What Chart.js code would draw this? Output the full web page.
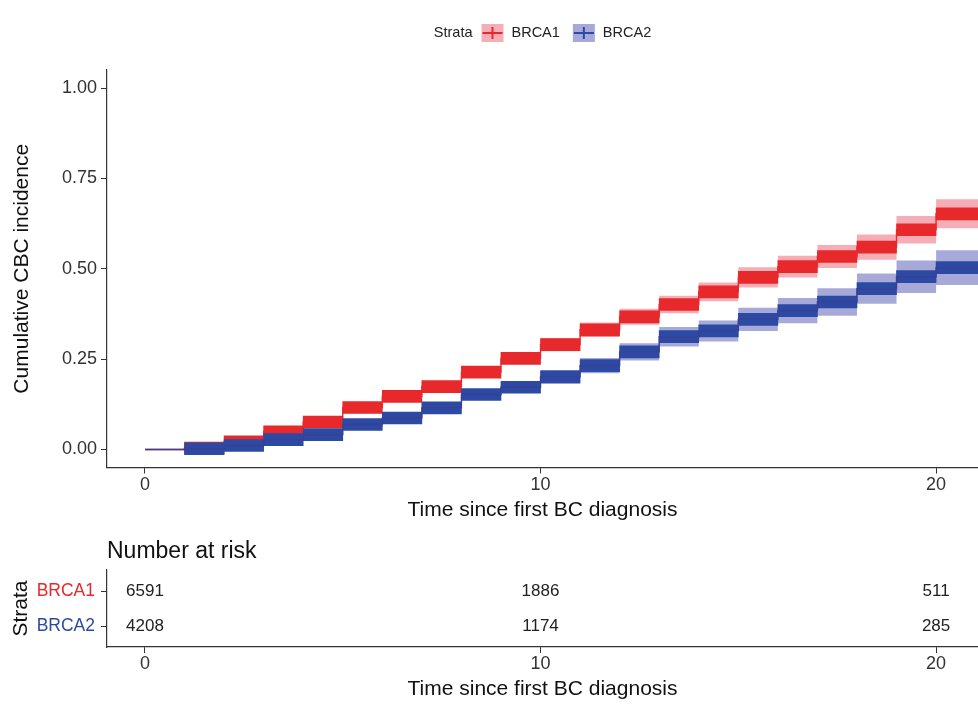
<!DOCTYPE html>
<html>
<head>
<meta charset="utf-8">
<script src="https://cdn.jsdelivr.net/npm/chart.js@4.4.1/dist/chart.umd.min.js"></script>
<style>
  html, body { margin: 0; padding: 0; background: #ffffff; }
  #wrap { position: relative; width: 978px; height: 704px; overflow: hidden; }
  #curve { position: absolute; left: 0; top: 0; }
  #risk { position: absolute; left: 0; top: 530px; }
</style>
</head>
<body>
<div id="wrap">
  <canvas id="curve" width="978" height="530"></canvas>
  <canvas id="risk" width="978" height="174"></canvas>
</div>
<script>
// ---- data -------------------------------------------------------------
const strata = ['BRCA1', 'BRCA2'];
const years = [0, 1, 2, 3, 4, 5, 6, 7, 8, 9, 10, 11, 12, 13, 14, 15, 16, 17, 18, 19, 20];
const followUpEnd = 21.5;

// cumulative incidence of contralateral breast cancer, with 95% band
const brca1Est   = [0, 0.004, 0.021, 0.049, 0.076, 0.116, 0.147, 0.174, 0.214, 0.252, 0.290, 0.331, 0.367, 0.401, 0.436, 0.476, 0.506, 0.534, 0.560, 0.608, 0.652];
const brca1Lower = [0, 0.001, 0.016, 0.042, 0.067, 0.105, 0.135, 0.161, 0.199, 0.236, 0.272, 0.311, 0.345, 0.377, 0.410, 0.448, 0.476, 0.502, 0.525, 0.570, 0.612];
const brca1Upper = [0, 0.007, 0.027, 0.057, 0.085, 0.127, 0.159, 0.187, 0.229, 0.268, 0.308, 0.351, 0.389, 0.425, 0.462, 0.504, 0.536, 0.566, 0.595, 0.646, 0.692];
const brca2Est   = [0, 0.002, 0.011, 0.027, 0.041, 0.069, 0.087, 0.115, 0.152, 0.172, 0.201, 0.232, 0.270, 0.312, 0.328, 0.360, 0.384, 0.408, 0.445, 0.478, 0.503];
const brca2Lower = [0, 0.000, 0.006, 0.020, 0.033, 0.059, 0.076, 0.102, 0.137, 0.156, 0.182, 0.211, 0.246, 0.285, 0.299, 0.328, 0.349, 0.370, 0.403, 0.433, 0.455];
const brca2Upper = [0, 0.005, 0.017, 0.034, 0.050, 0.079, 0.098, 0.128, 0.167, 0.189, 0.220, 0.253, 0.294, 0.339, 0.357, 0.392, 0.419, 0.446, 0.487, 0.523, 0.551];

// number at risk table
const riskTimes = [0, 10, 20];
const riskBRCA1 = [6591, 1886, 511];
const riskBRCA2 = [4208, 1174, 285];

const xTicks = [0, 10, 20];
const yTicks = [0, 0.25, 0.5, 0.75, 1];

// ---- styling ----------------------------------------------------------
const FONT = "'Liberation Sans', Arial, Helvetica, sans-serif";
const RED = '#E8292C';
const BLUE = '#2C4AA3';
const RED_BAND = 'rgba(234, 60, 80, 0.42)';
const BLUE_BAND = 'rgba(60, 64, 170, 0.45)';
const AXIS = '#333333';
const X_MIN = -0.96, X_MAX = 21.06;

Chart.defaults.font.family = FONT;
Chart.defaults.color = '#222222';

// ---- helpers ----------------------------------------------------------
function stepPoints(values) {
  const pts = years.map((t, i) => ({ x: t, y: values[i] }));
  pts.push({ x: followUpEnd, y: values[values.length - 1] });
  return pts;
}
// each step drawn as a horizontal floating bar from one event time to the next
function stepBars(values) {
  const bars = [];
  for (let i = 1; i < years.length; i++) {
    const next = i + 1 < years.length ? years[i + 1] : followUpEnd;
    bars.push({ x: [years[i], next], y: values[i] });
  }
  return bars;
}

const bandSet = (data, color, fill, order) => ({
  type: 'line', data: stepPoints(data), stepped: 'before',
  borderWidth: 0, pointRadius: 0, backgroundColor: color, fill: fill, order: order
});
const barSet = (data, color, order) => ({
  type: 'bar', indexAxis: 'y', data: stepBars(data), grouped: false,
  barThickness: 12, backgroundColor: color, borderWidth: 0, order: order
});
const lineSet = (data, color, order) => ({
  type: 'line', data: stepPoints(data), stepped: 'before',
  borderColor: color, borderWidth: 1.4, pointRadius: 0, fill: false, order: order
});

// legend with key glyphs drawn across the top
const strataLegend = {
  id: 'strataLegend',
  afterDraw(chart) {
    const ctx = chart.ctx;
    ctx.save();
    ctx.font = '14.5px ' + FONT;
    ctx.textBaseline = 'middle';
    ctx.fillStyle = '#222';
    const y = 33, keyW = 22, keyH = 18;
    const items = [
      { label: strata[0], line: RED, fill: RED_BAND },
      { label: strata[1], line: BLUE, fill: BLUE_BAND }
    ];
    const title = 'Strata';
    let total = ctx.measureText(title).width + 9;
    items.forEach(it => { total += keyW + 8 + ctx.measureText(it.label).width + 13; });
    total -= 13;
    let x = (chart.chartArea.left + chart.chartArea.right) / 2 - total / 2;
    ctx.textAlign = 'left';
    ctx.fillText(title, x, y);
    x += ctx.measureText(title).width + 9;
    items.forEach(it => {
      ctx.fillStyle = it.fill;
      ctx.fillRect(x, y - keyH / 2, keyW, keyH);
      ctx.strokeStyle = it.line;
      ctx.lineWidth = 2;
      ctx.beginPath();
      ctx.moveTo(x + 1, y); ctx.lineTo(x + keyW - 1, y);
      ctx.moveTo(x + keyW / 2, y - 6); ctx.lineTo(x + keyW / 2, y + 6);
      ctx.stroke();
      x += keyW + 8;
      ctx.fillStyle = '#222';
      ctx.fillText(it.label, x, y);
      x += ctx.measureText(it.label).width + 13;
    });
    ctx.restore();
  }
};

const axisGrid = { display: true, drawOnChartArea: false, drawTicks: true, tickLength: 6, color: AXIS, lineWidth: 1, offset: false };
const axisBorder = { display: true, color: AXIS, width: 1.2 };

// ---- cumulative incidence curves --------------------------------------
new Chart(document.getElementById('curve'), {
  type: 'line',
  data: {
    datasets: [
      bandSet(brca1Upper, RED_BAND, '+1', 10),
      bandSet(brca1Lower, RED_BAND, false, 10),
      bandSet(brca2Upper, BLUE_BAND, '+1', 9),
      bandSet(brca2Lower, BLUE_BAND, false, 9),
      barSet(brca1Est, RED, 6),
      lineSet(brca1Est, RED, 5),
      barSet(brca2Est, BLUE, 4),
      lineSet(brca2Est, '#3a3f95', 3)
    ]
  },
  options: {
    responsive: false,
    animation: false,
    events: [],
    layout: { padding: { top: 70, right: 0, bottom: 0, left: 0 } },
    plugins: { legend: { display: false }, tooltip: { enabled: false } },
    scales: {
      x: {
        type: 'linear', min: X_MIN, max: X_MAX, offset: false,
        afterBuildTicks: s => { s.ticks = xTicks.map(v => ({ value: v })); },
        afterFit: s => { s.height = 62.5; },
        ticks: { font: { size: 18 }, color: '#333', padding: 1, maxRotation: 0 },
        grid: axisGrid, border: axisBorder,
        title: { display: true, text: 'Time since first BC diagnosis', font: { size: 21 }, color: '#111', padding: { top: 0, bottom: 7 } }
      },
      y: {
        type: 'linear', min: -0.05, max: 1.05, offset: false,
        afterBuildTicks: s => { s.ticks = yTicks.map(v => ({ value: v })); },
        afterFit: s => { s.width = 107; },
        ticks: { font: { size: 18 }, color: '#333', padding: 4, callback: v => Number(v).toFixed(2) },
        grid: axisGrid, border: axisBorder,
        title: { display: true, text: 'Cumulative CBC incidence', font: { size: 21 }, color: '#111', padding: { top: 10, bottom: 0 } }
      }
    }
  },
  plugins: [strataLegend]
});

// ---- number at risk table ---------------------------------------------
const riskLabels = {
  id: 'riskLabels',
  afterDatasetsDraw(chart) {
    const ctx = chart.ctx;
    ctx.save();
    ctx.font = '17px ' + FONT;
    ctx.fillStyle = '#222';
    ctx.textAlign = 'center';
    ctx.textBaseline = 'middle';
    chart.data.datasets.forEach((ds, di) => {
      chart.getDatasetMeta(di).data.forEach((pt, i) => {
        ctx.fillText(String(ds.data[i].n), pt.x, pt.y);
      });
    });
    ctx.font = '23px ' + FONT;
    ctx.fillStyle = '#111';
    ctx.textAlign = 'left';
    ctx.fillText('Number at risk', chart.chartArea.left, 22);
    ctx.restore();
  }
};

const riskRow = (counts, row) => riskTimes.map((t, i) => ({ x: t, y: row, n: counts[i] }));

new Chart(document.getElementById('risk'), {
  type: 'scatter',
  data: {
    datasets: [
      { label: strata[0], data: riskRow(riskBRCA1, 1), pointRadius: 0 },
      { label: strata[1], data: riskRow(riskBRCA2, 2), pointRadius: 0 }
    ]
  },
  options: {
    responsive: false,
    animation: false,
    events: [],
    layout: { padding: { top: 40, right: 0, bottom: 0, left: 0 } },
    plugins: { legend: { display: false }, tooltip: { enabled: false } },
    scales: {
      x: {
        type: 'linear', min: X_MIN, max: X_MAX,
        afterBuildTicks: s => { s.ticks = xTicks.map(v => ({ value: v })); },
        afterFit: s => { s.height = 57; },
        ticks: { font: { size: 18 }, color: '#333', padding: 0, maxRotation: 0 },
        grid: axisGrid, border: axisBorder,
        title: { display: true, text: 'Time since first BC diagnosis', font: { size: 21 }, color: '#111', padding: { top: 0, bottom: 2 } }
      },
      y: {
        type: 'linear', min: 0.4, max: 2.6, reverse: true,
        afterBuildTicks: s => { s.ticks = [{ value: 1 }, { value: 2 }]; },
        afterFit: s => { s.width = 107; },
        ticks: {
          font: { size: 17.5 }, padding: 6,
          callback: v => strata[v - 1],
          color: c => (c.index === 0 ? RED : BLUE)
        },
        grid: axisGrid, border: axisBorder,
        title: { display: true, text: 'Strata', font: { size: 21 }, color: '#111', padding: { top: 9, bottom: 0 } }
      }
    }
  },
  plugins: [riskLabels]
});
</script>
</body>
</html>
